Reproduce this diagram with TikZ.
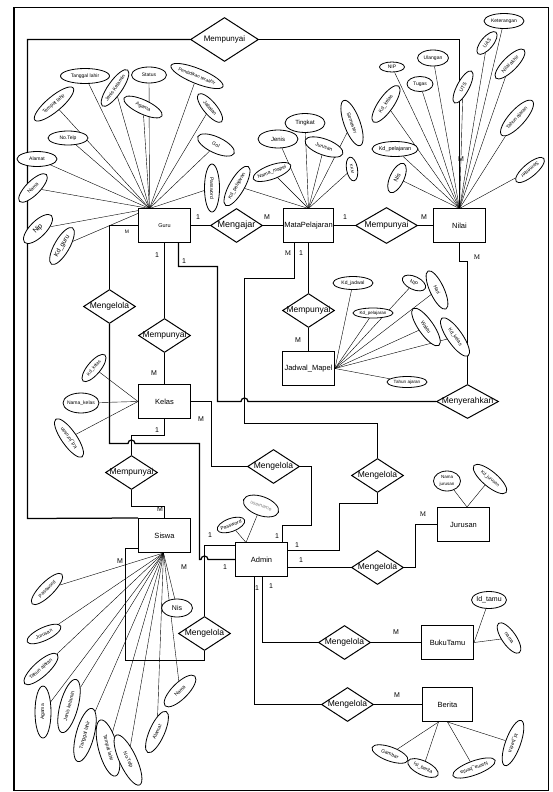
\documentclass[tikz,border=0pt]{standalone}
\usepackage{fontspec}
\setmainfont{Liberation Sans}
\newfontfamily\serifM{Liberation Serif}
\usetikzlibrary{shapes.geometric,backgrounds}
% centred text that does not widen its node
\newcommand{\ztxt}[1]{\makebox[0pt]{#1}}

\begin{document}
\begin{tikzpicture}[x=1pt,y=-1pt,line width=1pt,
  ent/.style={draw,rectangle,fill=white,minimum width=52pt,minimum height=34pt,inner sep=0pt,font=\fontsize{7.5}{9}\selectfont},
  rel/.style={draw,diamond,fill=white,minimum width=52pt,minimum height=34pt,inner sep=0pt,font=\fontsize{8.5}{10}\selectfont},
  attr/.style={draw,ellipse,fill=white,inner sep=0pt,line width=0.8pt,font=\fontsize{5}{6}\selectfont},
  card/.style={inner sep=0pt,font=\fontsize{7}{8}\selectfont},
  scard/.style={inner sep=0pt,font=\serifM\fontsize{7}{8}\selectfont},
  link/.style={line width=1.25pt,line join=miter},
]
\useasboundingbox (0,0) rectangle (552,792);
\draw[line width=1.6pt] (14,7.5) rectangle (548.5,790.5);

% ---------- entities ----------
\node[ent] (guru) at (164.5,225.5) {\fontsize{5.5}{6}\selectfont Guru};
\node[ent,minimum width=50pt] (mapel) at (308.5,225.5) {MataPelajaran};
\node[ent] (nilai) at (459.5,225.5) {Nilai};
\node[ent] (kelas) at (164.5,401.5) {Kelas};
\node[ent] (jadwal) at (308.5,368.5) {Jadwal\_Mapel};
\node[ent] (siswa) at (164.5,535.5) {Siswa};
\node[ent] (admin) at (261.5,559.5) {Admin};
\node[ent] (jurusan) at (463.5,524.5) {Jurusan};
\node[ent] (bukutamu) at (447.5,642.5) {BukuTamu};
\node[ent,minimum width=50pt] (berita) at (447.5,704.5) {Berita};

% ---------- relationships ----------
\node[rel,minimum width=68pt,minimum height=44pt,font=\fontsize{8}{10}\selectfont] (rtop) at (224.5,39.5) {\ztxt{Mempunyai}};
\node[rel,font=\fontsize{9}{10}\selectfont] (rajar) at (236.5,225.5) {\ztxt{Mengajar}};
\node[rel,minimum width=62pt,minimum height=36pt] (rmpn) at (386.5,225.5) {\ztxt{Mempunyai}};
\node[rel] (rgm) at (109.5,306.5) {\ztxt{Mengelola}};
\node[rel] (rgk) at (164.5,335.5) {\ztxt{Mempunyai}};
\node[rel] (rmj) at (308.5,310.5) {\ztxt{Mempunyai}};
\node[rel,minimum width=62pt] (rmen) at (467.5,401.5) {\ztxt{Menyerahkan}};
\node[rel] (rks) at (131.5,472.5) {\ztxt{Mempunyai}};
\node[rel] (rka) at (273.5,466.5) {\ztxt{Mengelola}};
\node[rel] (rma) at (377.5,475.5) {\ztxt{Mengelola}};
\node[rel] (rju) at (377.5,567.5) {\ztxt{Mengelola}};
\node[rel] (rsa) at (204.5,633.5) {\ztxt{Mengelola}};
\node[rel] (rbt) at (344.5,642.5) {\ztxt{Mengelola}};
\node[rel] (rbe) at (347.5,704.5) {\ztxt{Mengelola}};

% ---------- attribute hubs ----------
\coordinate (gh) at (149.5,208.5);
\coordinate (mh) at (308.5,208.5);
\coordinate (nh) at (459.5,208.5);
\coordinate (sh) at (163.5,553);
\coordinate (ah) at (246,542.5);
\coordinate (kh) at (kelas.west);
\coordinate (jh) at (jadwal.east);
\coordinate (bth) at (bukutamu.east);
\coordinate (juh) at ([xshift=3.5pt]jurusan.north);
\coordinate (beh1) at ([xshift=-9pt]berita.south);
\coordinate (beh2) at (berita.south);

% ---------- Guru attributes ----------
\node[attr,minimum width=49pt,minimum height=15pt] (g_tgl) at (85,76) {\ztxt{Tanggal lahir}};
\node[attr,rotate=40,minimum width=50pt,minimum height=15pt] (g_tmp) at (54,104) {\ztxt{Tempat lahir}};
\node[attr,rotate=55,minimum width=44pt,minimum height=14pt] (g_jk) at (115,88) {\ztxt{Jenis Kelamin}};
\node[attr,minimum width=35pt,minimum height=16pt] (g_status) at (149,75) {\ztxt{Status}};
\node[attr,rotate=-25,minimum width=42pt,minimum height=14pt] (g_agama) at (143,107) {\ztxt{Agama}};
\node[attr,rotate=-22,minimum width=56pt,minimum height=15pt,font=\fontsize{4.6}{5}\selectfont] (g_pend) at (197,76) {\ztxt{Pendidikan terakhir}};
\node[attr,rotate=-50,minimum width=36pt,minimum height=13pt] (g_jab) at (210,108) {\ztxt{Jabatan}};
\node[attr,rotate=-25,minimum width=40pt,minimum height=16pt] (g_gol) at (216,145) {\ztxt{Gol}};
\node[attr,rotate=-90,minimum width=48pt,minimum height=15pt] (g_pass) at (212,188) {\ztxt{Password}};
\node[attr,minimum width=40pt,minimum height=14pt] (g_telp) at (68,138) {\ztxt{No.Telp}};
\node[attr,minimum width=40pt,minimum height=15pt] (g_alamat) at (37,159) {\ztxt{Alamat}};
\node[attr,rotate=45,minimum width=38pt,minimum height=14pt] (g_nama) at (33,188) {\ztxt{Nama}};
\node[attr,rotate=45,minimum width=38pt,minimum height=16pt,font=\fontsize{7}{8}\selectfont] (g_nip) at (38,229) {\ztxt{Nip}};
\node[attr,rotate=60,minimum width=42pt,minimum height=15pt,font=\fontsize{6.5}{8}\selectfont] (g_kd) at (62,246) {\ztxt{Kd\_guru}};

% ---------- MataPelajaran attributes ----------
\node[attr,minimum width=40pt,minimum height=18pt,font=\fontsize{6}{7}\selectfont] (m_jenis) at (278,139) {\ztxt{Jenis}};
\node[attr,minimum width=40pt,minimum height=19pt,font=\fontsize{6}{7}\selectfont] (m_tingkat) at (305,123) {\ztxt{Tingkat}};
\node[attr,rotate=-20,minimum width=40pt,minimum height=16pt] (m_jur) at (324,147) {\ztxt{Jurusan}};
\node[attr,rotate=-70,minimum width=48pt,minimum height=16pt] (m_sem) at (352,123) {\ztxt{Semester}};
\node[attr,rotate=-80,minimum width=24pt,minimum height=11pt,font=\fontsize{4}{5}\selectfont] (m_kkm) at (352,169) {\ztxt{KKM}};
\node[attr,rotate=20,minimum width=40pt,minimum height=14pt] (m_nama) at (272,172) {\ztxt{Nama\_mapel}};
\node[attr,rotate=60,minimum width=45pt,minimum height=15pt] (m_kd) at (237,186) {\ztxt{Kd\_pelajaran}};

% ---------- Nilai attributes ----------
\node[attr,minimum width=40pt,minimum height=15pt] (n_ket) at (504,21) {\ztxt{Keterangan}};
\node[attr,rotate=50,minimum width=28pt,minimum height=12pt] (n_uas) at (487,43) {\ztxt{UAS}};
\node[attr,minimum width=31pt,minimum height=16pt] (n_ul) at (433,58) {\ztxt{Ulangan}};
\node[attr,minimum width=25pt,minimum height=10pt] (n_nip) at (392,67) {\ztxt{NIP}};
\node[attr,minimum width=26pt,minimum height=15pt] (n_tugas) at (420,84) {\ztxt{Tugas}};
\node[attr,rotate=62,minimum width=36pt,minimum height=12pt] (n_uts) at (463,87) {\ztxt{UTS}};
\node[attr,rotate=45,minimum width=40pt,minimum height=14pt] (n_akhir) at (510,64) {\ztxt{Nilai akhir}};
\node[attr,rotate=55,minimum width=44pt,minimum height=15pt] (n_kdk) at (386,104) {\ztxt{Kd\_kelas}};
\node[attr,rotate=48,minimum width=46pt,minimum height=16pt] (n_thn) at (517,118) {\ztxt{Tahun ajaran}};
\node[attr,minimum width=46pt,minimum height=15pt,font=\fontsize{5.5}{6}\selectfont] (n_kdp) at (395,149) {\ztxt{Kd\_pelajaran}};
\node[attr,rotate=65,minimum width=32pt,minimum height=14pt,font=\fontsize{6}{7}\selectfont] (n_nis) at (397,178) {\ztxt{Nis}};
\node[attr,rotate=220,minimum width=36pt,minimum height=13pt] (n_sem) at (530,170) {\ztxt{Semester}};

% ---------- Kelas attributes ----------
\node[attr,rotate=50,minimum width=34pt,minimum height=13pt,font=\fontsize{4.6}{5}\selectfont] (k_kd) at (94,368) {\ztxt{Kd\_kelas}};
\node[attr,minimum width=36pt,minimum height=20pt] (k_nama) at (81,403) {\ztxt{Nama\_kelas}};
\node[attr,rotate=125,minimum width=46pt,minimum height=15pt] (k_jur) at (69,438) {\ztxt{Kd\_jurusan}};

% ---------- Jadwal_Mapel attributes ----------
\node[attr,minimum width=40pt,minimum height=13pt] (j_kd) at (353,283) {\ztxt{Kd\_jadwal}};
\node[attr,minimum width=40pt,minimum height=10pt,font=\fontsize{4.5}{5}\selectfont] (j_kdp) at (373,313) {\ztxt{Kd\_pelajaran}};
\node[attr,rotate=-25,minimum width=25pt,minimum height=13pt] (j_nip) at (414,283) {\ztxt{NIP}};
\node[attr,rotate=-65,minimum width=42pt,minimum height=14pt] (j_hari) at (437,290) {\ztxt{Hari}};
\node[attr,rotate=-55,minimum width=45pt,minimum height=15pt] (j_waktu) at (426,327) {\ztxt{Waktu}};
\node[attr,rotate=-55,minimum width=46pt,minimum height=15pt] (j_kdk) at (455,337) {\ztxt{Kd\_kelas}};
\node[attr,minimum width=40pt,minimum height=11pt,font=\fontsize{4.6}{5}\selectfont] (j_thn) at (407,382) {\ztxt{Tahun ajaran}};

% ---------- Admin attributes ----------
\node[attr,rotate=20,minimum width=29pt,minimum height=13pt] (a_pass) at (231,525) {\ztxt{Password}};
\node[attr,rotate=-20,minimum width=37pt,minimum height=19pt,text=gray] (a_user) at (261,506) {\ztxt{username}};

% ---------- Jurusan attributes ----------
\node[attr,minimum width=27pt,minimum height=20pt,font=\fontsize{4.5}{5}\selectfont] (ju_nama) at (447,481) {\ztxt{\shortstack{Nama\\jurusan}}};
\node[attr,rotate=-40,minimum width=42pt,minimum height=15pt,font=\fontsize{4.5}{5}\selectfont] (ju_kd) at (490,479) {\ztxt{Kd\_jurusan}};

% ---------- BukuTamu attributes ----------
\node[attr,minimum width=35pt,minimum height=17pt,font=\fontsize{7}{8}\selectfont] (bt_id) at (489,600) {\ztxt{Id\_tamu}};
\node[attr,rotate=-55,minimum width=36pt,minimum height=14pt] (bt_nama) at (509,638) {\ztxt{nama}};

% ---------- Berita attributes ----------
\node[attr,rotate=-20,minimum width=38pt,minimum height=14pt] (be_gbr) at (390,754) {\ztxt{Gambar}};
\node[attr,rotate=-25,minimum width=33pt,minimum height=14pt] (be_isi) at (423,768) {\ztxt{Isi\_berita}};
\node[attr,rotate=200,minimum width=45pt,minimum height=14pt] (be_nama) at (474,768) {\ztxt{Nama\_berita}};
\node[attr,rotate=-110,minimum width=48pt,minimum height=15pt] (be_id) at (513,743) {\ztxt{Id\_berita}};

% ---------- Siswa attributes ----------
\begin{scope}[every node/.append style={font=\fontsize{5.5}{6}\selectfont}]
\node[attr,rotate=45,minimum width=42pt,minimum height=14pt] (s_pass) at (47,589) {\ztxt{Password}};
\node[attr,rotate=25,minimum width=37pt,minimum height=13pt] (s_jur) at (44,634) {\ztxt{Jurusan}};
\node[attr,rotate=42,minimum width=44pt,minimum height=15pt] (s_thn) at (41,669) {\ztxt{Tahun ajaran}};
\node[attr,rotate=90,minimum width=52pt,minimum height=16pt] (s_agama) at (43,712) {\ztxt{Agama}};
\node[attr,rotate=75,minimum width=55pt,minimum height=18pt] (s_jk) at (69,706) {\ztxt{Jenis kelamin}};
\node[attr,rotate=75,minimum width=55pt,minimum height=18pt] (s_tgl) at (85,735) {\ztxt{Tanggal lahir}};
\node[attr,rotate=-75,minimum width=58pt,minimum height=19pt] (s_tmp) at (108,748) {\ztxt{Tempat lahir}};
\node[attr,rotate=-65,minimum width=55pt,minimum height=17pt] (s_telp) at (128,760) {\ztxt{No.Telp}};
\node[attr,rotate=66,minimum width=45pt,minimum height=15pt] (s_alamat) at (157,732) {\ztxt{Alamat}};
\node[attr,rotate=45,minimum width=42pt,minimum height=16pt] (s_nama) at (180,691) {\ztxt{Nama}};
\node[attr,minimum width=31pt,minimum height=18pt,font=\fontsize{7}{8}\selectfont] (s_nis) at (177,608) {\ztxt{Nis}};
\end{scope}

% ---------- cardinalities ----------
\node[card] (c1) at (198,217) {1};
\node[card] (c2) at (267,217) {M};
\node[card] (c3) at (345,217) {1};
\node[card] (c4) at (424,217) {M};
\node[card,font=\fontsize{5}{6}\selectfont] (c5) at (127,232) {M};
\node[card] (c6) at (157,255) {1};
\node[card] (c7) at (184,261) {1};
\node[scard] (c8) at (288,253) {M};
\node[card] (c9) at (301,253) {1};
\node[card] (c10) at (298,340) {M};
\node[scard] (c11) at (477,257) {M};
\node[card] (c12) at (461,159) {M};
\node[card] (c13) at (154,373) {M};
\node[card] (c14) at (157,430) {1};
\node[card] (c15) at (201,419) {M};
\node[card] (c16) at (160,509) {M};
\node[card] (c17) at (120,561) {M};
\node[card] (c18) at (184,567) {M};
\node[card] (c19) at (210,535) {1};
\node[card] (c20) at (225,567) {1};
\node[card] (c21) at (277,536) {1};
\node[card] (c22) at (297,545) {1};
\node[card] (c23) at (301,560) {1};
\node[card] (c24) at (257,588) {1};
\node[card] (c25) at (271,586) {1};
\node[scard] (c26) at (423,514) {M};
\node[card] (c27) at (396,632) {M};
\node[card] (c28) at (397,695) {M};

% ---------- connectors ----------
\begin{scope}[on background layer,every path/.append style={link}]
% Siswa -- Mempunyai -- Nilai
\draw (rtop.west) -- (27.5,39.5) -- (27.5,518.5) -- (siswa.north west);
\draw (rtop.east) -| (nh);
% Guru -- Mengajar -- MataPelajaran -- Mempunyai -- Nilai
\draw (guru.east) -- (rajar.west);
\draw (rajar.east) -- (mapel.west);
\draw (mapel.east) -- (rmpn.west);
\draw (rmpn.east) -- (nilai.west);
% Guru -- Mengelola -- Admin
\draw (guru.west) -| (rgm.north);
\draw (rgm.south) -- (109.5,443.5) -- (128,443.5) arc[start angle=180,end angle=360,radius=3.5]
      -- (199.5,443.5) -- (199.5,559.5) -- (201,559.5) arc[start angle=180,end angle=360,radius=3.5]
      -- (admin.west);
% Guru -- Mempunyai -- Kelas
\draw (guru.south) -- (rgk.north);
\draw (rgk.south) -- (kelas.north);
% Guru -- Menyerahkan -- Nilai
\draw ([xshift=14pt]guru.south) -- (178.5,266.5) -- (217.5,266.5) -- (217.5,401.5) -- (241,401.5)
      arc[start angle=180,end angle=360,radius=3.5] -- (rmen.west);
\draw (rmen.north) -- (467.5,261.5) -| (nilai.south);
% MataPelajaran -- Mengelola -- Admin
\draw ([xshift=-14pt]mapel.south) -- (294.5,278.5) -- (244.5,278.5) -- (244.5,423.5) -| (rma.north);
\draw (rma.south) -- (377.5,503.5) -- (339.5,503.5) -- (339.5,550.5) -- ([yshift=9pt]admin.east);
% MataPelajaran -- Mempunyai -- Jadwal_Mapel
\draw (mapel.south) -- (rmj.north);
\draw (rmj.south) -- (jadwal.north);
% Kelas -- Mempunyai -- Siswa
\draw (kelas.south) -- (164.5,435.5) -| (rks.north);
\draw (rks.south) -- (131.5,506.5) -| (siswa.north);
% Kelas -- Mengelola -- Admin
\draw (kelas.east) -- (211.5,401.5) |- (rka.west);
\draw (rka.east) -- (311.5,466.5) -- (311.5,525.5) -| ([xshift=21pt]admin.north);
% Admin -- Mengelola -- Jurusan
\draw ([yshift=-8pt]admin.east) -- (rju.west);
\draw (rju.east) -- (415.5,567.5) |- (jurusan.west);
% Siswa -- Mengelola -- Admin
\draw (rsa.north) |- ([yshift=14pt]admin.west);
\draw (rsa.south) -- (204.5,660.5) -- (125.5,660.5) |- ([yshift=-13pt]siswa.west);
% Admin -- Mengelola -- BukuTamu / Berita
\draw ([xshift=-7pt]admin.south) |- (rbe.west);
\draw ([xshift=1pt]admin.south) |- (rbt.west);
\draw (rbt.east) -- (bukutamu.west);
\draw (rbe.east) -- (berita.west);
\end{scope}

% attribute links
\begin{scope}[on background layer,line width=0.75pt]
\foreach \a in {g_tgl,g_tmp,g_jk,g_status,g_agama,g_pend,g_jab,g_gol,g_pass,g_telp,g_alamat,g_nama,g_nip,g_kd}
  \draw (gh) -- (\a);
\foreach \a in {m_jenis,m_tingkat,m_jur,m_sem,m_kkm,m_nama,m_kd}
  \draw (mh) -- (\a);
\foreach \a in {n_ket,n_uas,n_ul,n_nip,n_tugas,n_uts,n_akhir,n_kdk,n_thn,n_kdp,n_nis,n_sem}
  \draw (nh) -- (\a);
\foreach \a in {k_kd,k_nama,k_jur}
  \draw (kh) -- (\a);
\foreach \a in {j_kd,j_kdp,j_nip,j_hari,j_waktu,j_kdk,j_thn}
  \draw (jh) -- (\a);
\foreach \a in {a_pass,a_user}
  \draw (ah) -- (\a);
\draw (ju_nama) -- (juh) -- (ju_kd);
\foreach \a in {bt_id,bt_nama}
  \draw (bth) -- (\a);
\draw (beh1) -- (be_gbr);
\draw (beh1) -- (be_isi);
\draw (beh2) -- (be_nama);
\draw (beh2) -- (be_id);
\foreach \a in {s_pass,s_jur,s_thn,s_agama,s_jk,s_tgl,s_tmp,s_telp,s_alamat,s_nama,s_nis}
  \draw (sh) -- (\a);
\end{scope}
\end{tikzpicture}
\end{document}
